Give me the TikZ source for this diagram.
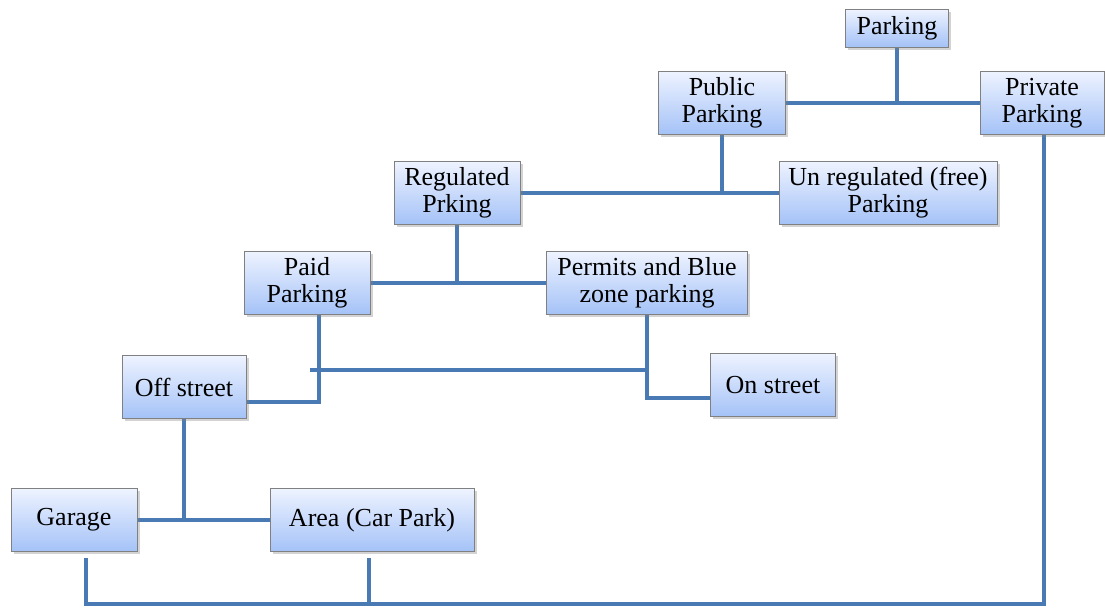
\documentclass[tikz,border=0pt]{standalone}
\usepackage{fontspec}
\setmainfont{Liberation Serif}
\usepackage{tikz}
\usetikzlibrary{calc,shadows}
\definecolor{linkblue}{RGB}{74,122,180}
\definecolor{boxtop}{RGB}{238,243,255}
\definecolor{boxbot}{RGB}{164,194,247}
\definecolor{boxline}{RGB}{128,128,128}
\pgfdeclarelayer{bg}
\pgfsetlayers{bg,main}

\begin{document}
\begin{tikzpicture}[x=1pt,y=-1pt,
    box/.style={draw=boxline,line width=0.8pt,top color=boxtop,bottom color=boxbot,
      align=center,inner sep=2pt,minimum height=63pt,
      font=\fontsize{26}{27}\selectfont,
      drop shadow={shadow xshift=2.5pt,shadow yshift=-2.5pt,opacity=0.35}},
    link/.style={linkblue,line width=4pt,line cap=rect}]
    
    % Kotak-kotak
    \useasboundingbox (0,0) rectangle (1105,608);
    \node[box,minimum width=103pt,minimum height=38pt] (parking) at (897,28) {Parking};
    \node[box,minimum width=127pt] (public) at (722,103) {Public\\Parking};
    \node[box,minimum width=124pt] (private) at (1042,103) {Private\\Parking};
    \node[box,minimum width=126pt] (regulated) at (457,193) {Regulated\\Prking};
    \node[box,minimum width=218pt] (unregulated) at (888,193) {Un regulated (free)\\Parking};
    \node[box,minimum width=126pt] (paid) at (307,283) {Paid\\Parking};
    \node[box,minimum width=201pt] (permits) at (647,283) {Permits and Blue\\zone parking};
    \node[box,minimum width=124pt] (offst) at (184,387) {Off street};
    \node[box,minimum width=125pt] (onst) at (773,385) {On street};
    \node[box,minimum width=126pt] (garage) at (74,520) {Garage};
    \node[box,minimum width=204pt] (area) at (372,520) {Area (Car Park)};
    
    % Titik bantu
    \coordinate (fl) at (312,370);
    \coordinate (fr) at (643,370);
    \coordinate (gtop) at (86,560);
    \coordinate (atop) at (369,560);
    \coordinate (bl) at (86,604);
    \coordinate (br) at (1044,604);
    
    % Garis penghubung
    \begin{pgfonlayer}{bg}
    \draw[link] (public.east) -- (private.west);
    \draw[link] (parking.south) -- (parking.south |- public.east);
    \draw[link] (regulated.east) -- (unregulated.west);
    \draw[link] (public.south) -- (public.south |- regulated.east);
    \draw[link] (paid.east) -- (permits.west);
    \draw[link] (regulated.south) -- (regulated.south |- paid.east);
    \draw[link] ([xshift=12pt]paid.south) |- ([yshift=-15pt]offst.east);
    \draw[link] (fl) -- (fr);
    \draw[link] (permits.south) |- ([yshift=-13pt]onst.west);
    \draw[link] (garage.east) -- (area.west);
    \draw[link] (offst.south) -- (offst.south |- garage.east);
    \draw[link] (gtop) -- (bl) -- (br) -- (br |- private.south);
    \draw[link] (atop) -- (atop |- bl);
    \end{pgfonlayer}
    
\end{tikzpicture}
\end{document}
